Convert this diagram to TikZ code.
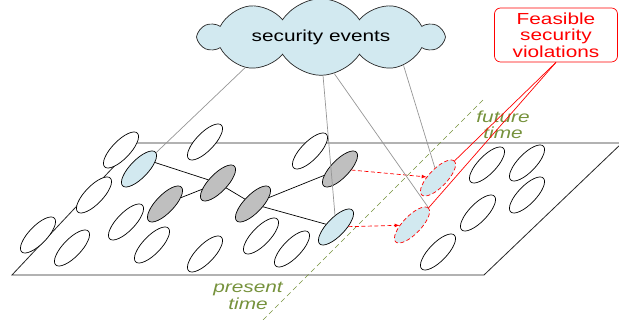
\documentclass[tikz,border=0pt]{standalone}
\usepackage{fontspec}
\setmainfont{Liberation Sans}
\newfontfamily\widesans[FakeStretch=1.3]{Liberation Sans}
\usetikzlibrary{shapes.geometric,shapes.symbols}

\definecolor{evblue}{RGB}{210,233,240}
\definecolor{stgray}{RGB}{191,191,191}
\definecolor{timegreen}{RGB}{118,146,60}
\definecolor{linkgray}{RGB}{150,150,150}

\begin{document}
\begin{tikzpicture}[x=1pt,y=1pt,>=latex,line width=0.7pt,
	cell/.style={ellipse,draw=black,fill=white,minimum width=47pt,minimum height=18pt,inner sep=0pt,rotate=46},
	seen/.style={cell,fill=evblue},
	past/.style={cell,fill=stgray},
	feasible/.style={cell,fill=evblue,draw=red,dash pattern=on 4pt off 2.5pt},
	lbl/.style={font=\widesans\fontsize{16}{16.5}\selectfont,align=center}]
\useasboundingbox (0,0) rectangle (619,320);
% plane of states
\draw[fill=white,draw=black!85,line width=0.8pt] (12,45) -- (484,45) -- (622,177) -- (136,177) -- cycle;
\draw[timegreen,dash pattern=on 5pt off 3.5pt] (263,0) -- (483,220);
\node[lbl,text=timegreen] (future) at (503,195) {\itshape future\\\itshape time};
\node[lbl,text=timegreen] (present) at (248,24) {\itshape present\\\itshape time};
%
\foreach \x/\y [count=\i] in {121/170,205/178,310/169,94/125,38/85,72/72,126/98,152/75,
	205/66,261/84,292/71,487/155,527/157,527/125,478/107,438/68}{
	\node[cell] (n\i) at (\x,\y) {};
}
\node[seen] (obs1) at (139,151) {};
\node[seen] (obs2) at (336,93) {};
\node[past] (st1) at (165,116) {};
\node[past] (st2) at (218,137) {};
\node[past] (st3) at (253,116) {};
\node[past] (st4) at (340,151) {};
\node[feasible] (fut1) at (438,142) {};
\node[feasible] (fut2) at (412,95) {};
%
\draw (obs1.-24) -- (st2);
\draw (st1) -- (st2);
\draw (st2) -- (st3);
\draw (st3) -- (st4);
\draw (st3) -- (obs2);
\draw[red,dash pattern=on 4pt off 2.5pt,->] (st4) -- (fut1);
\draw[red,dash pattern=on 4pt off 2.5pt,->] (obs2) -- (fut2);
% events
\node[cloud,aspect=4.3,draw=black!85,fill=evblue,cloud puffs=10,cloud puff arc=115,minimum width=243pt,
	inner sep=0pt,font=\widesans\fontsize{16}{16}\selectfont] (events) at (321,283) {security events};
\draw[linkgray] (events.202) -- (obs1);
\draw[linkgray] (events.273) -- (obs2);
\draw[linkgray] (events.290) -- (fut2.east);
\draw[linkgray] (events.341) -- (fut1);
% violations
\node[lbl,draw=red,rounded corners=6pt,fill=white,text=red,minimum width=123pt,minimum height=54pt]
	(viol) at (556,285) {Feasible\\security\\violations};
\draw[red] (viol.south) -- (fut1.east);
\draw[red] (viol.south) -- (fut2.east);
\end{tikzpicture}
\end{document}
